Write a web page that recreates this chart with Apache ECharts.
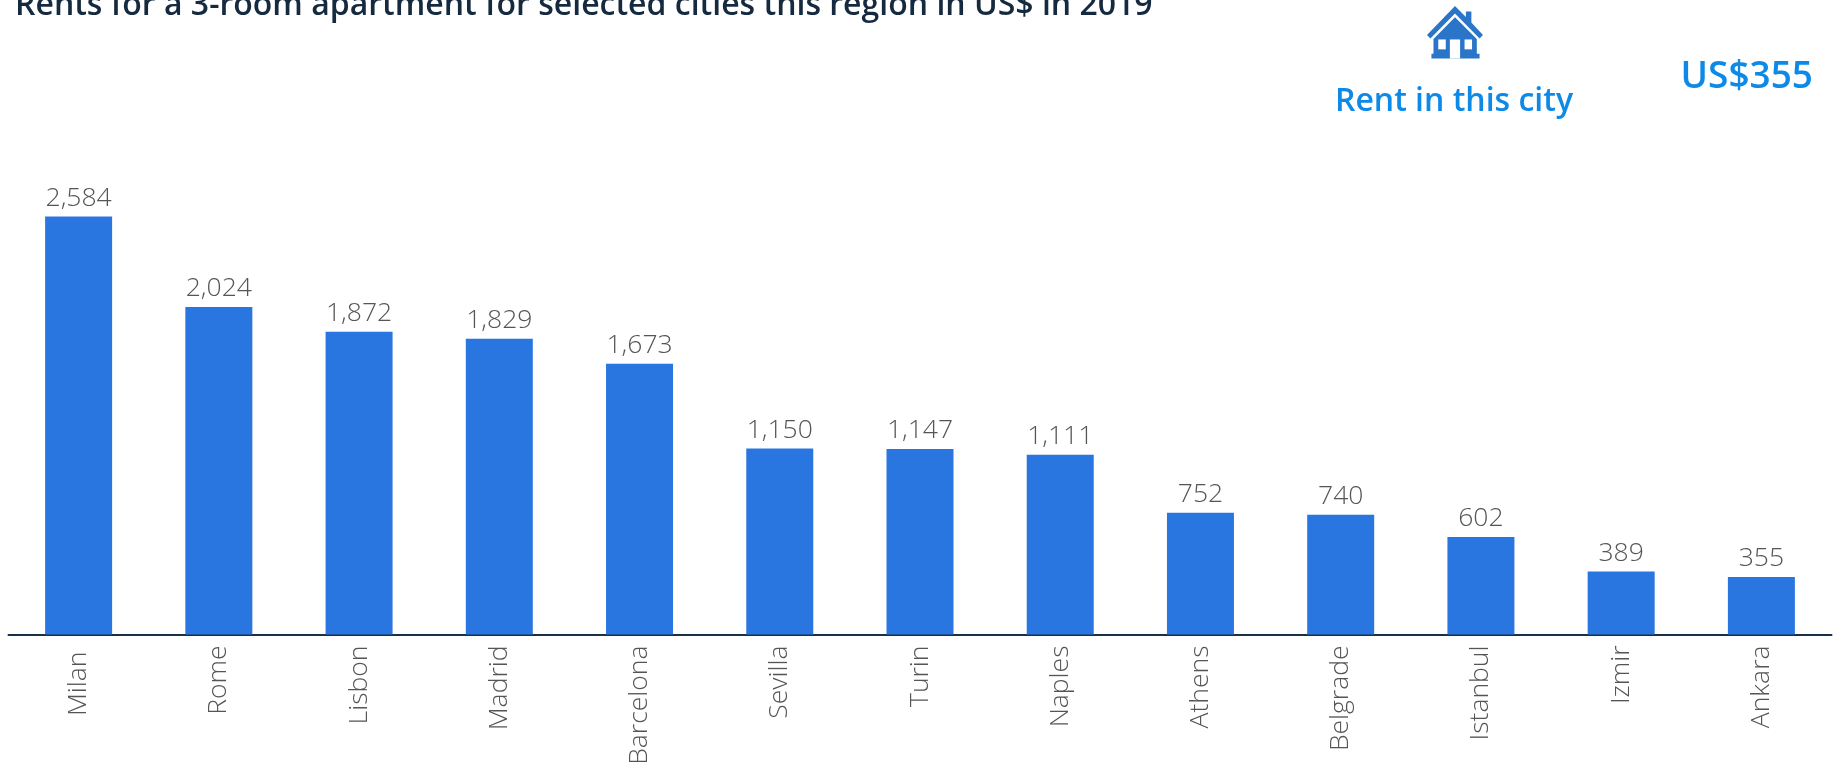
<!DOCTYPE html>
<html>
<head>
<meta charset="utf-8">
<title>Rents</title>
<style>
html, body { margin: 0; padding: 0; background: #fff; }
#main { width: 1835px; height: 762px; }
</style>
<script src="https://cdn.jsdelivr.net/npm/echarts@6/dist/echarts.min.js"></script>
</head>
<body>
<div id="main"></div>
<script>
var cities = ['Milan', 'Rome', 'Lisbon', 'Madrid', 'Barcelona', 'Sevilla', 'Turin', 'Naples', 'Athens', 'Belgrade', 'Istanbul', 'Izmir', 'Ankara'];
var rents = [2584, 2024, 1872, 1829, 1673, 1150, 1147, 1111, 752, 740, 602, 389, 355];
var titleText = 'Rents for a 3-room apartment for selected cities this region in US$ in 2019';
var rentLabel = 'Rent in this city';
var rentValue = 'US$355';

var font = '"Open Sans", sans-serif';
var blue = '#2a75c7';

// house icon, drawn at 1/2.93 of the size it was measured at
function houseShape(type, shape, fill) {
    return { type: type, x: 1427, y: 6, scaleX: 0.3413, scaleY: 0.3413, shape: shape, style: { fill: fill } };
}

var myChart = echarts.init(document.getElementById('main'));
myChart.setOption({
    animation: false,
    backgroundColor: '#fff',
    title: {
        text: titleText,
        left: 10,
        top: -15,
        textStyle: { fontFamily: font, fontSize: 32, fontWeight: 600, color: '#15293f' }
    },
    grid: { left: 8.5, right: 3.5, top: 216.5, bottom: 127.5, outerBoundsMode: 'none' },
    xAxis: {
        type: 'category',
        data: cities.map(function (c) {
            // Milan sits a little further from the axis than the other labels
            return c === 'Milan' ? { value: c, textStyle: { padding: [0, 6, 0, 0] } } : c;
        }),
        axisTick: { show: false },
        axisLine: { lineStyle: { color: '#1a3048', width: 2 } },
        axisLabel: {
            rotate: 90,
            margin: 11,
            interval: 0,
            fontFamily: font,
            fontWeight: 300,
            fontSize: 26.5,
            color: '#555'
        }
    },
    yAxis: {
        type: 'value',
        min: 0,
        max: 2584,
        show: false
    },
    series: [{
        type: 'bar',
        data: rents,
        barWidth: 67,
        itemStyle: { color: '#2a76e0' },
        label: {
            show: true,
            position: 'top',
            distance: 5,
            fontFamily: font,
            fontWeight: 300,
            fontSize: 26.5,
            color: '#555',
            formatter: function (p) {
                return p.value.toLocaleString('en-US');
            }
        }
    }],
    graphic: [
        houseShape('polygon', { points: [[82, 0], [114, 32], [114, 16], [130, 16], [130, 48], [164, 85], [154, 95], [82, 22], [10, 95], [0, 85]] }, blue),
        houseShape('polygon', { points: [[82, 33], [146, 97], [146, 140], [154, 140], [154, 154], [13, 154], [13, 140], [19, 140], [19, 97]] }, blue),
        houseShape('rect', { x: 67, y: 98, width: 30, height: 56 }, '#fff'),
        houseShape('rect', { x: 33, y: 98, width: 22, height: 29 }, '#fff'),
        houseShape('rect', { x: 110, y: 98, width: 22, height: 29 }, '#fff'),
        {
            type: 'text',
            x: 1454,
            y: 118,
            style: {
                text: rentLabel,
                align: 'center',
                verticalAlign: 'bottom',
                fontFamily: font,
                fontWeight: 600,
                fontSize: 32,
                fill: '#0d8ae8'
            }
        },
        {
            type: 'text',
            x: 1813,
            y: 96,
            style: {
                text: rentValue,
                align: 'right',
                verticalAlign: 'bottom',
                fontFamily: font,
                fontWeight: 600,
                fontSize: 37,
                fill: '#0d8ae8'
            }
        }
    ]
});
</script>
</body>
</html>
